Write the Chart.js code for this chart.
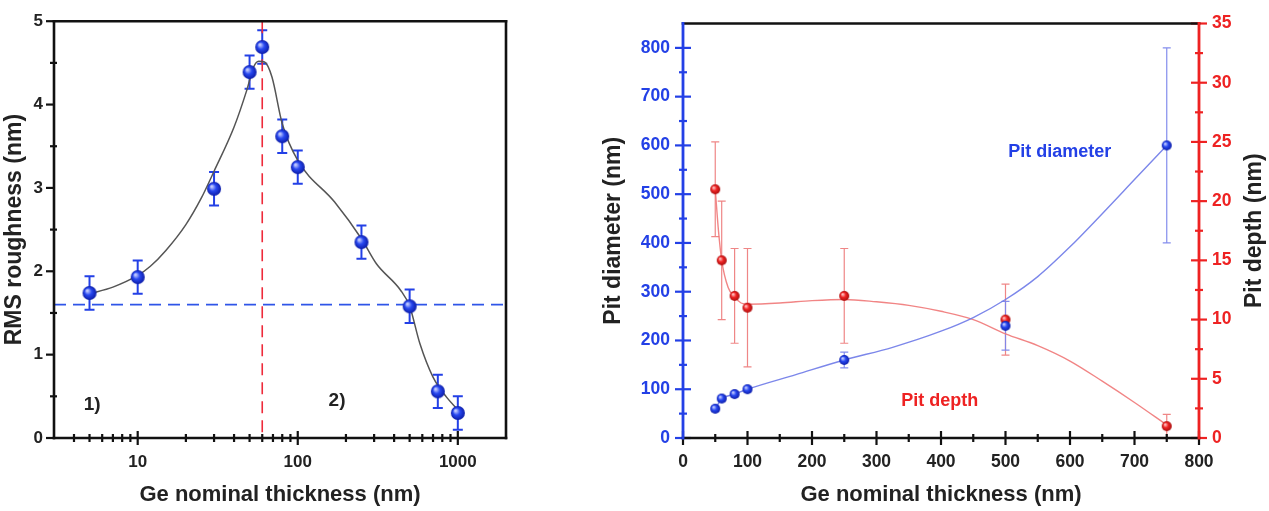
<!DOCTYPE html>
<html>
<head>
<meta charset="utf-8">
<script src="https://cdn.jsdelivr.net/npm/chart.js@4.4.0/dist/chart.umd.min.js"></script>
<style>
  html, body { margin: 0; padding: 0; background: #fff; }
  #wrap { position: relative; width: 1269px; height: 511px; overflow: hidden; }
  #leftBox { position: absolute; left: 0; top: 0; width: 600px; height: 511px; }
  #rightBox { position: absolute; left: 600px; top: 0; width: 669px; height: 511px; }
</style>
</head>
<body>
<div id="wrap">
  <div id="leftBox"><canvas id="rmsChart" width="600" height="511"></canvas></div>
  <div id="rightBox"><canvas id="pitChart" width="669" height="511"></canvas></div>
</div>
<script>
// ---- left panel: RMS roughness vs thickness (log x) ----
const rmsThickness = [5, 10, 30, 50, 60, 80, 100, 250, 500, 750, 1000];
const rmsRoughness = [1.74, 1.93, 2.99, 4.39, 4.69, 3.62, 3.25, 2.35, 1.58, 0.56, 0.30];
const rmsError = [0.2, 0.2, 0.2, 0.2, 0.2, 0.2, 0.2, 0.2, 0.2, 0.2, 0.2];
// smooth guide curve
const rmsFitThickness = [5, 7, 10, 12, 15, 20, 25, 30, 40, 48, 53, 57, 62, 69, 80, 100, 170, 250, 310, 440, 500, 580, 700, 850, 1000];
const rmsFitRoughness = [1.73, 1.81, 1.95, 2.06, 2.25, 2.56, 2.88, 3.2, 3.73, 4.17, 4.45, 4.52, 4.51, 4.33, 3.77, 3.33, 2.83, 2.39, 2.09, 1.77, 1.58, 1.13, 0.73, 0.49, 0.34];
const rmsBaseline = 1.6;
const rmsCriticalThickness = 60;
const rmsXRange = [3, 2000];
const rmsYRange = [0, 5];
const rmsXMajorTicks = [10, 100, 1000];
const rmsXMinorTicks = [4, 5, 6, 7, 8, 9, 20, 30, 40, 50, 60, 70, 80, 90, 200, 300, 400, 500, 600, 700, 800, 900];
const rmsYMajorTicks = [0, 1, 2, 3, 4, 5];
const rmsYMinorTicks = [0.5, 1.5, 2.5, 3.5, 4.5];
const rmsNotes = [{ text: '1)', x: 5.2, y: 0.4 }, { text: '2)', x: 176, y: 0.45 }];

// ---- right panel: pit diameter / pit depth vs thickness ----
const pitThickness = [50, 60, 80, 100, 250, 500, 750];
const pitDiameter = [60, 81, 90, 100, 160, 230, 600];
const pitDiameterError = [5, 5, 5, 5, 16, 50, 200];
const pitDepth = [21, 15, 12, 11, 12, 10, 1];
const pitDepthError = [4, 5, 4, 5, 4, 3, 1];
const pitDiameterFitX = [50, 60, 80, 100, 175, 250, 325, 400, 450, 500, 550, 600, 650, 700, 750];
const pitDiameterFitY = [60, 80, 90, 100, 130, 160, 186, 219, 247, 284, 331, 392, 460, 530, 600];
const pitDepthFitX = [50, 55, 60, 70, 80, 90, 100, 150, 200, 250, 300, 350, 400, 450, 500, 550, 600, 650, 700, 750];
const pitDepthFitY = [21, 17.5, 15, 12.7, 11.9, 11.4, 11.3, 11.4, 11.6, 11.7, 11.5, 11.2, 10.7, 10.0, 8.8, 7.8, 6.5, 4.8, 3.0, 1.1];
const pitXTicks = [0, 100, 200, 300, 400, 500, 600, 700, 800];
const pitXMinorTicks = [50, 150, 250, 350, 450, 550, 650, 750];
const pitDiameterTicks = [0, 100, 200, 300, 400, 500, 600, 700, 800];
const pitDiameterMinorTicks = [50, 150, 250, 350, 450, 550, 650, 750];
const pitDepthTicks = [0, 5, 10, 15, 20, 25, 30, 35];
const pitDepthMinorTicks = [2.5, 7.5, 12.5, 17.5, 22.5, 27.5, 32.5];

const FONT = "'Liberation Sans', Arial, sans-serif";
const BLUE = '#2340e6';
const RED = '#ee2222';
Chart.defaults.font.family = FONT;
Chart.defaults.font.weight = 'bold';

function pairs(xs, ys) {
    return xs.map((x, i) => ({ x: x, y: ys[i] }));
}

// shaded ball used as point marker
function makeBall(r, light, base, dark) {
    const c = document.createElement('canvas');
    c.width = c.height = 2 * r + 2;
    const g = c.getContext('2d');
    const cx = r + 1;
    const grad = g.createRadialGradient(cx - r * 0.35, cx - r * 0.35, r * 0.1, cx, cx, r);
    grad.addColorStop(0, light);
    grad.addColorStop(0.45, base);
    grad.addColorStop(1, dark);
    g.fillStyle = grad;
    g.beginPath();
    g.arc(cx, cx, r, 0, Math.PI * 2);
    g.fill();
    return c;
}

const errorBarsPlugin = {
    id: 'errorBars',
    beforeDatasetsDraw(chart, args, opts) {
        const ctx = chart.ctx;
        (opts.sets || []).forEach(s => {
            const ds = chart.data.datasets[s.datasetIndex];
            const meta = chart.getDatasetMeta(s.datasetIndex);
            const xs = chart.scales[meta.xAxisID];
            const ys = chart.scales[meta.yAxisID];
            ctx.save();
            ctx.strokeStyle = s.color;
            ctx.lineWidth = s.width;
            ds.data.forEach((pt, i) => {
                const x = xs.getPixelForValue(pt.x);
                const y1 = ys.getPixelForValue(pt.y - s.errors[i]);
                const y2 = ys.getPixelForValue(pt.y + s.errors[i]);
                ctx.beginPath();
                ctx.moveTo(x, y1); ctx.lineTo(x, y2);
                ctx.moveTo(x - s.cap, y1); ctx.lineTo(x + s.cap, y1);
                ctx.moveTo(x - s.cap, y2); ctx.lineTo(x + s.cap, y2);
                ctx.stroke();
            });
            ctx.restore();
        });
    }
};

// axis lines, frame and tick marks; lengths are [outside, inside]
const axisMarksPlugin = {
    id: 'axisMarks',
    afterDatasetsDraw(chart, args, opts) {
        const ctx = chart.ctx;
        const a = chart.chartArea;
        ctx.save();
        (opts.marks || []).forEach(m => {
            const scale = chart.scales[m.scaleId];
            ctx.strokeStyle = m.color;
            ctx.lineWidth = m.width;
            const draw = (vals, len) => vals.forEach(v => {
                const p = scale.getPixelForValue(v);
                ctx.beginPath();
                if (scale.isHorizontal()) {
                    ctx.moveTo(p, a.bottom - len[1]); ctx.lineTo(p, a.bottom + len[0]);
                } else if (m.side === 'right') {
                    ctx.moveTo(a.right - len[1], p); ctx.lineTo(a.right + len[0], p);
                } else {
                    ctx.moveTo(a.left - len[0], p); ctx.lineTo(a.left + len[1], p);
                }
                ctx.stroke();
            });
            draw(m.major, m.majorLen);
            draw(m.minor, m.minorLen);
        });
        ctx.lineCap = 'square';
        (opts.edges || []).forEach(e => {
            ctx.strokeStyle = e.color;
            ctx.lineWidth = e.width;
            ctx.beginPath();
            if (e.side === 'top') { ctx.moveTo(a.left, a.top); ctx.lineTo(a.right, a.top); }
            if (e.side === 'bottom') { ctx.moveTo(a.left, a.bottom); ctx.lineTo(a.right, a.bottom); }
            if (e.side === 'left') { ctx.moveTo(a.left, a.top); ctx.lineTo(a.left, a.bottom); }
            if (e.side === 'right') { ctx.moveTo(a.right, a.top); ctx.lineTo(a.right, a.bottom); }
            ctx.stroke();
        });
        ctx.restore();
    }
};

// free text placed in data coordinates, plus an upward-reading right axis title
const notesPlugin = {
    id: 'notes',
    afterDraw(chart, args, opts) {
        const ctx = chart.ctx;
        const a = chart.chartArea;
        ctx.save();
        ctx.textAlign = 'center';
        ctx.textBaseline = 'middle';
        (opts.items || []).forEach(n => {
            const xs = chart.scales[n.xScale || 'x'];
            const ys = chart.scales[n.yScale || 'y'];
            ctx.font = 'bold ' + n.size + 'px ' + FONT;
            ctx.fillStyle = n.color;
            ctx.fillText(n.text, xs.getPixelForValue(n.x), ys.getPixelForValue(n.y));
        });
        if (opts.sideTitle) {
            const t = opts.sideTitle;
            ctx.translate(t.x, (a.top + a.bottom) / 2);
            ctx.rotate(-Math.PI / 2);
            ctx.font = 'bold ' + t.size + 'px ' + FONT;
            ctx.fillStyle = t.color;
            ctx.fillText(t.text, 0, 0);
        }
        ctx.restore();
    }
};

Chart.register(errorBarsPlugin, axisMarksPlugin, notesPlugin);

function fixedTicks(values) {
    return scale => { scale.ticks = values.map(v => ({ value: v })); };
}

// ---------------- left chart ----------------
new Chart(document.getElementById('rmsChart'), {
    type: 'scatter',
    data: {
        datasets: [
            {
                data: pairs(rmsThickness, rmsRoughness),
                pointStyle: makeBall(7, '#c4ccff', '#2848f0', '#0c1ca8'),
                pointRadius: 7,
                order: 0
            },
            {
                data: pairs(rmsFitThickness, rmsFitRoughness),
                showLine: true,
                pointRadius: 0,
                borderColor: '#555555',
                borderWidth: 1.5,
                cubicInterpolationMode: 'monotone',
                order: 3
            },
            {
                data: [{ x: rmsXRange[0], y: rmsBaseline }, { x: rmsXRange[1], y: rmsBaseline }],
                showLine: true,
                pointRadius: 0,
                borderColor: '#2f55e8',
                borderWidth: 1.6,
                borderDash: [12, 7],
                order: 4
            },
            {
                data: [{ x: rmsCriticalThickness, y: rmsYRange[1] }, { x: rmsCriticalThickness, y: rmsYRange[0] }],
                showLine: true,
                pointRadius: 0,
                borderColor: '#ee2a3a',
                borderWidth: 1.6,
                borderDash: [12, 7],
                order: 5
            }
        ]
    },
    options: {
        responsive: false,
        animation: false,
        devicePixelRatio: 1,
        layout: { padding: { top: 21, right: 94, left: 0, bottom: 0 } },
        plugins: {
            legend: { display: false },
            tooltip: { enabled: false },
            errorBars: { sets: [{ datasetIndex: 0, errors: rmsError, color: BLUE, width: 2, cap: 5 }] },
            axisMarks: {
                marks: [
                    { scaleId: 'x', major: rmsXMajorTicks, minor: rmsXMinorTicks, majorLen: [7, 7], minorLen: [4, 4], color: '#111', width: 2.2 },
                    { scaleId: 'y', side: 'left', major: rmsYMajorTicks, minor: rmsYMinorTicks, majorLen: [8, 1], minorLen: [4, 3], color: '#111', width: 2.2 }
                ],
                edges: [
                    { side: 'top', color: '#111', width: 2.6 },
                    { side: 'right', color: '#111', width: 2.6 },
                    { side: 'bottom', color: '#111', width: 2.6 },
                    { side: 'left', color: '#111', width: 2.6 }
                ]
            },
            notes: { items: rmsNotes.map(n => ({ text: n.text, x: n.x, y: n.y, size: 19, color: '#222' })) }
        },
        scales: {
            x: {
                type: 'logarithmic',
                min: rmsXRange[0],
                max: rmsXRange[1],
                afterBuildTicks: fixedTicks(rmsXMajorTicks),
                afterFit: s => { s.height = 73; },
                grid: { display: false, drawTicks: false },
                border: { display: false },
                ticks: {
                    autoSkip: false,
                    maxRotation: 0,
                    padding: 14,
                    color: '#222',
                    font: { size: 17, weight: 'bold' },
                    callback: v => String(v)
                },
                title: {
                    display: true,
                    text: 'Ge nominal thickness (nm)',
                    color: '#222',
                    font: { size: 22, weight: 'bold' },
                    padding: { top: 0, bottom: 3 }
                }
            },
            y: {
                min: rmsYRange[0],
                max: rmsYRange[1],
                afterBuildTicks: fixedTicks(rmsYMajorTicks),
                afterFit: s => { s.width = 54; },
                grid: { display: false, drawTicks: false },
                border: { display: false },
                ticks: { padding: 11, color: '#222', font: { size: 17, weight: 'bold' } },
                title: {
                    display: true,
                    text: 'RMS roughness (nm)',
                    color: '#222',
                    font: { size: 23, weight: 'bold' },
                    padding: { top: 1, bottom: 0 }
                }
            }
        }
    }
});

// ---------------- right chart ----------------
new Chart(document.getElementById('pitChart'), {
    type: 'scatter',
    data: {
        datasets: [
            {
                data: pairs(pitThickness, pitDiameter),
                yAxisID: 'yD',
                pointStyle: makeBall(5, '#c4ccff', '#2848f0', '#0c1ca8'),
                pointRadius: 5,
                order: 0
            },
            {
                data: pairs(pitThickness, pitDepth),
                yAxisID: 'yP',
                pointStyle: makeBall(5, '#ffc4c4', '#f02424', '#a80c0c'),
                pointRadius: 5,
                order: 1
            },
            {
                data: pairs(pitDiameterFitX, pitDiameterFitY),
                yAxisID: 'yD',
                showLine: true,
                pointRadius: 0,
                borderColor: 'rgba(110,122,232,0.9)',
                borderWidth: 1.4,
                cubicInterpolationMode: 'monotone',
                order: 3
            },
            {
                data: pairs(pitDepthFitX, pitDepthFitY),
                yAxisID: 'yP',
                showLine: true,
                pointRadius: 0,
                borderColor: 'rgba(240,120,120,0.9)',
                borderWidth: 1.4,
                cubicInterpolationMode: 'monotone',
                order: 4
            }
        ]
    },
    options: {
        responsive: false,
        animation: false,
        devicePixelRatio: 1,
        layout: { padding: { top: 21, right: 0, left: 0, bottom: 0 } },
        plugins: {
            legend: { display: false },
            tooltip: { enabled: false },
            errorBars: {
                sets: [
                    { datasetIndex: 1, errors: pitDepthError, color: 'rgba(238,128,128,0.95)', width: 1.2, cap: 4 },
                    { datasetIndex: 0, errors: pitDiameterError, color: 'rgba(125,135,236,0.95)', width: 1.2, cap: 4 }
                ]
            },
            axisMarks: {
                marks: [
                    { scaleId: 'x', major: pitXTicks, minor: pitXMinorTicks, majorLen: [7, 7], minorLen: [4, 4], color: '#111', width: 2.2 },
                    { scaleId: 'yD', side: 'left', major: pitDiameterTicks, minor: pitDiameterMinorTicks, majorLen: [8, 8], minorLen: [4, 4], color: BLUE, width: 2.2 },
                    { scaleId: 'yP', side: 'right', major: pitDepthTicks, minor: pitDepthMinorTicks, majorLen: [8, 8], minorLen: [4, 4], color: RED, width: 2.2 }
                ],
                edges: [
                    { side: 'top', color: '#111', width: 2.6 },
                    { side: 'bottom', color: '#111', width: 2.6 },
                    { side: 'left', color: BLUE, width: 2.8 },
                    { side: 'right', color: RED, width: 2.8 }
                ]
            },
            notes: {
                items: [
                    { text: 'Pit diameter', x: 584, y: 587, yScale: 'yD', size: 18, color: BLUE },
                    { text: 'Pit depth', x: 398, y: 3.1, yScale: 'yP', size: 18, color: RED }
                ],
                sideTitle: { text: 'Pit depth (nm)', x: 655, size: 23, color: '#222' }
            }
        },
        scales: {
            x: {
                type: 'linear',
                min: 0,
                max: 800,
                afterBuildTicks: fixedTicks(pitXTicks),
                afterFit: s => { s.height = 73; },
                grid: { display: false, drawTicks: false },
                border: { display: false },
                ticks: { autoSkip: false, maxRotation: 0, padding: 14, color: '#222', font: { size: 17.5, weight: 'bold' } },
                title: {
                    display: true,
                    text: 'Ge nominal thickness (nm)',
                    color: '#222',
                    font: { size: 22, weight: 'bold' },
                    padding: { top: 0, bottom: 3 }
                }
            },
            yD: {
                position: 'left',
                min: 0,
                max: 850,
                afterBuildTicks: fixedTicks(pitDiameterTicks),
                afterFit: s => { s.width = 83; },
                grid: { display: false, drawTicks: false },
                border: { display: false },
                ticks: { padding: 13, color: BLUE, font: { size: 17.5, weight: 'bold' } },
                title: {
                    display: true,
                    text: 'Pit diameter (nm)',
                    color: '#222',
                    font: { size: 23, weight: 'bold' },
                    padding: { top: 0, bottom: 0 }
                }
            },
            yP: {
                position: 'right',
                min: 0,
                max: 35,
                afterBuildTicks: fixedTicks(pitDepthTicks),
                afterFit: s => { s.width = 70; },
                grid: { display: false, drawTicks: false },
                border: { display: false },
                ticks: { padding: 13, color: RED, font: { size: 17.5, weight: 'bold' } }
            }
        }
    }
});
</script>
</body>
</html>
